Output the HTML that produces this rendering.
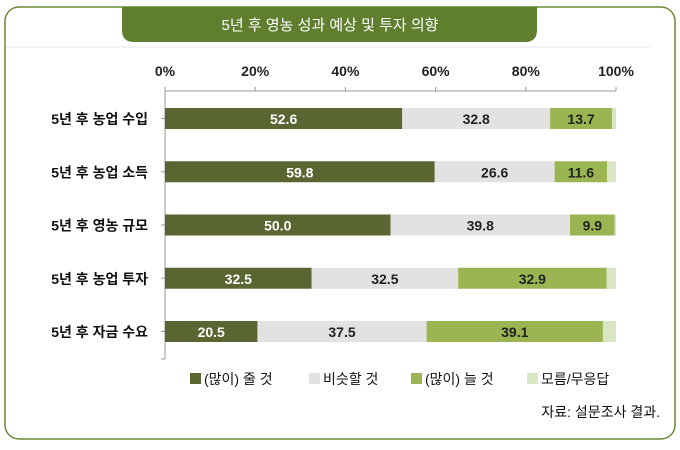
<!DOCTYPE html>
<html><head><meta charset="utf-8"><style>
body{margin:0;width:680px;height:445px;background:#fff;overflow:hidden;font-family:"Liberation Sans","Noto Sans CJK KR",sans-serif;}
</style></head><body>
<svg width="680" height="445" xmlns="http://www.w3.org/2000/svg" font-family="Liberation Sans, Noto Sans CJK KR, sans-serif">
<rect x="5" y="7" width="670" height="432" rx="14" fill="#fff" stroke="#6b8a36" stroke-width="1.5"/>
<path d="M122 7 H537 V30 Q537 42 525 42 H134 Q122 42 122 30 Z" fill="#5f7f2f"/>
<text x="330" y="30" text-anchor="middle" fill="#fff" font-size="15">5년 후 영농 성과 예상 및 투자 의향</text>
<line x1="6" y1="47" x2="650" y2="47" stroke="#e6e6e6"/>
<g id="axis"></g>
<g id="bars"></g>
<g id="legend"></g>
<text x="660" y="417" text-anchor="end" font-size="14" fill="#111">자료: 설문조사 결과.</text>
</svg>
<script>
const categories=["5년 후 농업 수입","5년 후 농업 소득","5년 후 영농 규모","5년 후 농업 투자","5년 후 자금 수요"];
const decrease=[52.6,59.8,50.0,32.5,20.5];
const similar=[32.8,26.6,39.8,32.5,37.5];
const increase=[13.7,11.6,9.9,32.9,39.1];
const unknown=[0.9,2.0,0.3,2.1,2.9];
const ticks=[0,20,40,60,80,100];
const seriesNames=["(많이) 줄 것","비슷할 것","(많이) 늘 것","모름/무응답"];
const colors=["#5a6631","#e2e2e2","#9bb553","#d9e6c3"];
const NS="http://www.w3.org/2000/svg";
const x=v=>165+v*4.51;
const y=i=>108+i*53.25;
function mk(t,a,p){const e=document.createElementNS(NS,t);for(const k in a)e.setAttribute(k,a[k]);p.appendChild(e);return e;}
const ax=document.getElementById('axis');
let l=mk('line',{x1:x(0),y1:91,x2:x(100),y2:91,stroke:'#999'},ax);


l=mk('line',{x1:x(0),y1:91,x2:x(0),y2:359,stroke:'#999'},ax);


ticks.forEach(t=>{
 const tk=mk('line',{x1:x(t),y1:87,x2:x(t),y2:91,stroke:'#999'},ax);
 
 
 const tl=mk('text',{x:x(t),y:76,'text-anchor':'middle','font-size':14,'font-weight':'bold',fill:'#222'},ax);
 tl.textContent=t+'%';
 
 
});
for(let i=0;i<5;i++){
 const lt=mk('line',{x1:x(0)-4,y1:y(i)+10.5,x2:x(0),y2:y(i)+10.5,stroke:'#999'},ax);
 
 
}
lt=mk('line',{x1:x(0)-4,y1:359,x2:x(0),y2:359,stroke:'#999'},ax);
const bg=document.getElementById('bars');
const series=[decrease,similar,increase,unknown];
categories.forEach((c,i)=>{
 const cl=mk('text',{x:148,y:y(i)+16,'text-anchor':'end','font-size':14,'font-weight':'bold',fill:'#111'},bg);
 cl.textContent=c;
 
 
 let acc=0;
 series.forEach((s,j)=>{
  const r=mk('rect',{x:x(acc),y:y(i),width:s[i]*4.51,height:21,fill:colors[j]},bg);
  
  
  if(j<3){
   const t=mk('text',{x:x(acc+s[i]/2),y:y(i)+16,'text-anchor':'middle','font-size':14,'font-weight':'bold',fill:j==0?'#fff':'#222'},bg);
   t.textContent=s[i].toFixed(1);
   
   
  }
  acc+=s[i];
 });
});
const lg=document.getElementById('legend');
const lx=[190,309,411,527];
seriesNames.forEach((n,j)=>{
 const r=mk('rect',{x:lx[j],y:373,width:11,height:11,fill:colors[j]},lg);
 
 
 const t=mk('text',{x:lx[j]+14,y:384,'font-size':14,fill:'#111'},lg);
 t.textContent=n;
 
 
});
</script>
</body></html>
